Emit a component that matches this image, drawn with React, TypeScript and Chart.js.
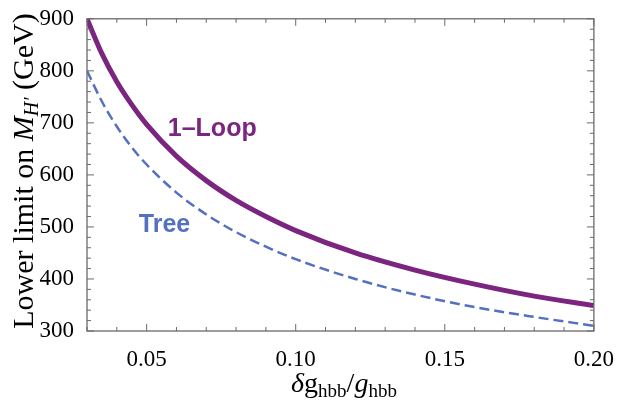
import React, { useEffect, useRef } from 'react';
import { Chart, registerables } from 'chart.js';
Chart.register(...registerables);

const SERIF = "'Liberation Serif', 'Times New Roman', serif";
const SANS = "'Liberation Sans', Arial, sans-serif";
const PURPLE = '#7b2580';
const BLUE = '#5470c1';
const FRAME = '#6a6a6a';

// data
const xValues = [0.03, 0.035, 0.04, 0.045, 0.05, 0.06, 0.07, 0.08, 0.09, 0.10, 0.12, 0.14, 0.16, 0.18, 0.20];
const oneLoop = [900, 833, 779, 735, 697, 636, 589, 551, 520, 493, 450, 417, 390, 367, 349];
const tree = [800, 741, 693, 653, 620, 566, 524, 490, 462, 438, 400, 370, 346, 327, 310];

// axes
const xMajorTicks = [0.05, 0.10, 0.15, 0.20];
const xMinorTicks = [0.03, 0.04, 0.06, 0.07, 0.08, 0.09, 0.11, 0.12, 0.13, 0.14, 0.16, 0.17, 0.18, 0.19];
const yMajorTicks = [300, 400, 500, 600, 700, 800, 900];
const yMinorTicks = [320, 340, 360, 380, 420, 440, 460, 480, 520, 540, 560, 580, 620, 640, 660, 680, 720, 740, 760, 780, 820, 840, 860, 880];

// curve labels (data coords)
const curveLabels = [
  { text: '1\u2013Loop', x: 0.0720, y: 688, color: PURPLE },
  { text: 'Tree', x: 0.0560, y: 504, color: BLUE },
];

type Seg = { text: string; font: string; dy: number };

function drawSegs(ctx: CanvasRenderingContext2D, segs: Seg[], cx: number, baseY: number) {
  let total = 0;
  const widths = segs.map((s) => {
    ctx.font = s.font;
    const w = ctx.measureText(s.text).width;
    total += w;
    return w;
  });
  let x = cx - total / 2;
  ctx.textAlign = 'left';
  ctx.textBaseline = 'alphabetic';
  segs.forEach((s, i) => {
    ctx.font = s.font;
    ctx.fillText(s.text, x, baseY + s.dy);
    x += widths[i];
  });
}

const framePlugin = {
  id: 'frame',
  afterDraw(chart: any) {
    const ctx: CanvasRenderingContext2D = chart.ctx;
    const { left, right, top, bottom } = chart.chartArea;
    const xs = chart.scales.x;
    const ys = chart.scales.y;
    ctx.save();
    ctx.strokeStyle = FRAME;
    ctx.lineWidth = 1.3;
    ctx.strokeRect(left, top, right - left, bottom - top);
    ctx.lineWidth = 1;
    const tick = (x1: number, y1: number, x2: number, y2: number) => {
      ctx.beginPath();
      ctx.moveTo(x1, y1);
      ctx.lineTo(x2, y2);
      ctx.stroke();
    };
    xMajorTicks.forEach((v) => {
      const p = xs.getPixelForValue(v);
      tick(p, bottom, p, bottom - 7);
      tick(p, top, p, top + 7);
    });
    xMinorTicks.forEach((v) => {
      const p = xs.getPixelForValue(v);
      tick(p, bottom, p, bottom - 4);
      tick(p, top, p, top + 4);
    });
    yMajorTicks.forEach((v) => {
      const p = ys.getPixelForValue(v);
      tick(left, p, left + 7, p);
      tick(right, p, right - 7, p);
    });
    yMinorTicks.forEach((v) => {
      const p = ys.getPixelForValue(v);
      tick(left, p, left + 4, p);
      tick(right, p, right - 4, p);
    });

    // curve labels
    curveLabels.forEach((l) => {
      ctx.fillStyle = l.color;
      ctx.font = `bold 25px ${SANS}`;
      ctx.textAlign = 'center';
      ctx.textBaseline = 'middle';
      ctx.fillText(l.text, xs.getPixelForValue(l.x), ys.getPixelForValue(l.y));
    });

    // x title
    ctx.fillStyle = '#000';
    const big = 28;
    const sub = 19;
    drawSegs(ctx, [
      { text: '\u03b4', font: `italic ${big}px ${SERIF}`, dy: 0 },
      { text: 'g', font: `${big}px ${SERIF}`, dy: 0 },
      { text: 'hbb', font: `${sub}px ${SERIF}`, dy: 5 },
      { text: '/', font: `${big}px ${SERIF}`, dy: 0 },
      { text: 'g', font: `italic ${big}px ${SERIF}`, dy: 0 },
      { text: 'hbb', font: `${sub}px ${SERIF}`, dy: 5 },
    ], 344, 392);

    // y title
    ctx.translate(33, 171);
    ctx.rotate(-Math.PI / 2);
    const yb = 30;
    drawSegs(ctx, [
      { text: 'Lower limit on ', font: `${yb}px ${SERIF}`, dy: 0 },
      { text: 'M', font: `italic ${yb}px ${SERIF}`, dy: 0 },
      { text: 'H\u2032', font: `italic 20px ${SERIF}`, dy: 5 },
      { text: ' (GeV)', font: `${yb}px ${SERIF}`, dy: 0 },
    ], 0, 0);
    ctx.restore();
  },
};

export default function App() {
  const ref = useRef<HTMLCanvasElement>(null);
  useEffect(() => {
    const chart = new Chart(ref.current!, {
      type: 'scatter',
      data: {
        datasets: [
          {
            label: '1-Loop',
            data: xValues.map((x, i) => ({ x, y: oneLoop[i] })),
            showLine: true,
            borderColor: PURPLE,
            borderWidth: 5,
            pointRadius: 0,
            cubicInterpolationMode: 'monotone',
          },
          {
            label: 'Tree',
            data: xValues.map((x, i) => ({ x, y: tree[i] })),
            showLine: true,
            borderColor: BLUE,
            borderWidth: 2.5,
            borderDash: [10, 5],
            pointRadius: 0,
            cubicInterpolationMode: 'monotone',
          },
        ],
      },
      options: {
        responsive: false,
        animation: false,
        layout: { padding: { top: 15, right: 22, left: 0, bottom: 0 } },
        plugins: { legend: { display: false }, tooltip: { enabled: false } },
        scales: {
          x: {
            type: 'linear',
            min: 0.03,
            max: 0.2,
            grid: { display: false },
            border: { display: false },
            afterBuildTicks: (s: any) => {
              s.ticks = xMajorTicks.map((v) => ({ value: v }));
            },
            afterFit: (s: any) => {
              s.height = 73;
            },
            ticks: {
              padding: 7,
              color: '#000',
              font: { family: SERIF, size: 23 },
              maxRotation: 0,
              autoSkip: false,
              callback: (v: any) => Number(v).toFixed(2),
            },
          },
          y: {
            type: 'linear',
            min: 300,
            max: 900,
            grid: { display: false },
            border: { display: false },
            afterBuildTicks: (s: any) => {
              s.ticks = yMajorTicks.map((v) => ({ value: v }));
            },
            afterFit: (s: any) => {
              s.width = 87;
            },
            ticks: {
              padding: 5,
              color: '#000',
              font: { family: SERIF, size: 23 },
              callback: (v: any) => String(v),
            },
          },
        },
      },
      plugins: [framePlugin],
    } as any);
    return () => chart.destroy();
  }, []);
  return (
    <div style={{ position: 'absolute', left: 0, top: 0, width: 621, height: 404 }}>
      <canvas ref={ref} width={621} height={404} />
    </div>
  );
}
